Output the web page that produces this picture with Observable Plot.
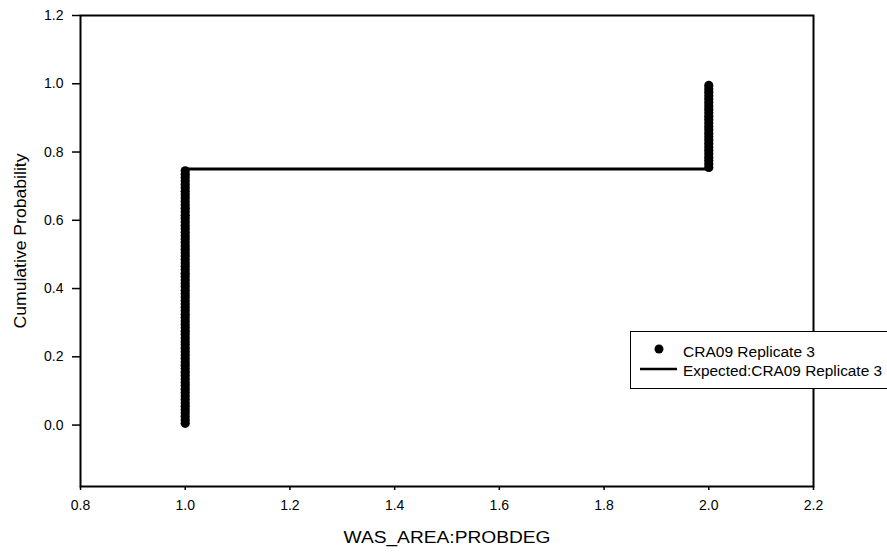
<!DOCTYPE html>
<html>
<head>
<meta charset="utf-8">
<script src="https://cdn.jsdelivr.net/npm/d3@7"></script>
<script src="https://cdn.jsdelivr.net/npm/@observablehq/plot@0.6"></script>
<style>
  html, body { margin: 0; padding: 0; background: white; }
  #wrap { position: relative; width: 887px; height: 553px; overflow: hidden; }
  #legend { position: absolute; left: 0; top: 0; pointer-events: none; }
</style>
</head>
<body>
<div id="wrap"></div>
<script>
// Observed sample values (WAS_AREA:PROBDEG), 75 at 1.0 and 25 at 2.0
const observed = [
  1,1,1,1,1,1,1,1,1,1, 1,1,1,1,1,1,1,1,1,1,
  1,1,1,1,1,1,1,1,1,1, 1,1,1,1,1,1,1,1,1,1,
  1,1,1,1,1,1,1,1,1,1, 1,1,1,1,1,1,1,1,1,1,
  1,1,1,1,1,1,1,1,1,1, 1,1,1,1,1,
  2,2,2,2,2,2,2,2,2,2, 2,2,2,2,2,2,2,2,2,2,
  2,2,2,2,2
];
// Expected step CDF
const expectedX = [1.0, 1.0, 2.0, 2.0];
const expectedY = [0.0, 0.75, 0.75, 1.0];
// Tick values
const xTicks = [0.8, 1.0, 1.2, 1.4, 1.6, 1.8, 2.0, 2.2];
const yTicks = [0.0, 0.2, 0.4, 0.6, 0.8, 1.0, 1.2];
const seriesLabel = "CRA09 Replicate 3";
const expectedLabel = "Expected:CRA09 Replicate 3";
const xTitle = "WAS_AREA:PROBDEG";
const yTitle = "Cumulative Probability";

// Empirical CDF plotting positions
const sorted = observed.slice().sort((a, b) => a - b);
const n = sorted.length;
const points = sorted.map((v, i) => ({x: v, p: (i + 0.5) / n}));
const expected = expectedX.map((x, i) => ({x, p: expectedY[i]}));

const fmt = d3.format(".1f");
const font = "'Liberation Sans', Arial, sans-serif";

const chart = Plot.plot({
  width: 887,
  height: 553,
  marginLeft: 80,
  marginRight: 74,
  marginTop: 15,
  marginBottom: 67,
  style: {fontFamily: font, fontSize: "14px", color: "black", background: "white", overflow: "visible"},
  x: {domain: [0.8, 2.2], ticks: xTicks, tickFormat: fmt, tickSize: 4, tickPadding: 10, label: null},
  y: {domain: [-0.18, 1.2], ticks: yTicks, tickFormat: fmt, tickSize: 8, tickPadding: 9, label: null},
  marks: [
    Plot.frame({stroke: "black", strokeWidth: 2}),
    Plot.line(expected, {x: "x", y: "p", stroke: "black", strokeWidth: 3}),
    Plot.dot(points, {x: "x", y: "p", r: 4.6, fill: "black", stroke: null}),
    Plot.text([xTitle], {text: d => d, frameAnchor: "bottom", dy: 51, fontSize: 16, fill: "black", textAnchor: "middle", lineAnchor: "middle"}),
    Plot.text([yTitle], {text: d => d, frameAnchor: "left", dx: -60, dy: -10, rotate: -90, fontSize: 16, fill: "black", textAnchor: "middle", lineAnchor: "middle"})
  ]
});

const wrap = document.getElementById("wrap");
wrap.appendChild(chart);

// stretch titles to match reference widths; enlarge tick labels
const tickStrings = new Set([...xTicks, ...yTicks].map(fmt));
d3.select(chart).selectAll("text").each(function() {
  const t = this.textContent;
  const s = d3.select(this);
  if (t === xTitle) s.attr("textLength", 207).attr("lengthAdjust", "spacingAndGlyphs");
  else if (t === yTitle) s.attr("textLength", 175).attr("lengthAdjust", "spacingAndGlyphs");
  else if (tickStrings.has(t)) s.style("font-size", "14px").attr("font-size", 14);
});
d3.select(chart).selectAll("g[aria-label$='tick'] path, g[aria-label$='axis'] line").attr("stroke-width", 1.5);

// Legend overlay
const lg = d3.select(wrap).append("svg")
  .attr("id", "legend")
  .attr("width", 887).attr("height", 553);
lg.append("rect")
  .attr("x", 630.5).attr("y", 331.5).attr("width", 280).attr("height", 57)
  .attr("fill", "white").attr("stroke", "black").attr("stroke-width", 1);
lg.append("circle").attr("cx", 659).attr("cy", 349).attr("r", 4.5).attr("fill", "black");
lg.append("line").attr("x1", 640).attr("x2", 677).attr("y1", 369).attr("y2", 369)
  .attr("stroke", "black").attr("stroke-width", 2.5);
lg.append("text").attr("x", 683).attr("y", 357).text(seriesLabel)
  .attr("font-family", font).attr("font-size", 14)
  .attr("textLength", 132).attr("lengthAdjust", "spacingAndGlyphs");
lg.append("text").attr("x", 683).attr("y", 376).text(expectedLabel)
  .attr("font-family", font).attr("font-size", 14)
  .attr("textLength", 199).attr("lengthAdjust", "spacingAndGlyphs");
</script>
</body>
</html>
